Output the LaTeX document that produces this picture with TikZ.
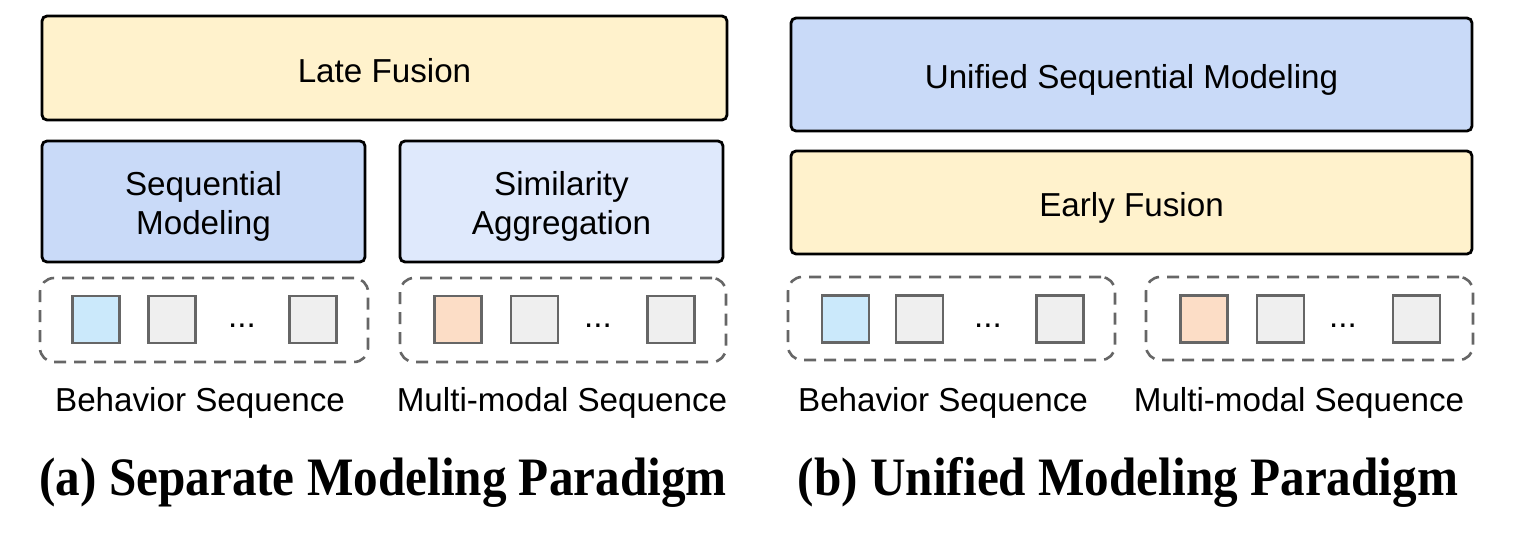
\documentclass[tikz,border=0pt]{standalone}
\usepackage{fontspec}
\setmainfont{Liberation Sans}
\newfontfamily\capfont{Liberation Serif}
\newcommand\myup[1]{\rule{0pt}{#1}}
\definecolor{fyellow}{HTML}{FFF2CC}
\definecolor{fblue}{HTML}{C9DAF8}
\definecolor{flblue}{HTML}{DFE9FC}
\definecolor{sqblue}{HTML}{CBE9FB}
\definecolor{sqorange}{HTML}{FCDDC6}
\definecolor{sqgray}{HTML}{EFEFEF}
\definecolor{edgegray}{HTML}{666666}
\begin{document}
\begin{tikzpicture}[x=0.5pt,y=-0.5pt,
  mainbox/.style={draw=black,line width=1.4pt,rounded corners=2.5pt,inner sep=0pt,align=center,
    font=\fontsize{16.6}{19.5}\selectfont},
  seqbox/.style={draw=edgegray,line width=1.3pt,dash pattern=on 6pt off 4pt,rounded corners=7pt,inner sep=0pt},
  sq/.style={draw=edgegray,line width=1.4pt,inner sep=0pt,minimum width=23.5pt,minimum height=23.5pt},
  lbl/.style={inner sep=0pt,font=\fontsize{16.6}{19.5}\selectfont,yshift=-1.5pt},
  dots/.style={inner sep=0pt,font=\fontsize{16.6}{19.5}\selectfont},
  capt/.style={inner sep=0pt,font=\capfont\bfseries\fontsize{24.6}{28}\selectfont,yshift=-2.2pt}]
\useasboundingbox (0,0) rectangle (1518,552);
\fill[white] (0,0) rectangle (1518,552);

% ---------- (a) ----------
\node[mainbox,fill=fyellow,minimum width=342.5pt,minimum height=52pt] (late) at (384.5,68) {\myup{14.6pt}Late Fusion};
\node[mainbox,fill=fblue,minimum width=161.5pt,minimum height=60.5pt] (seqm) at (203.5,201.5) {\myup{17.1pt}Sequential\\Modeling};
\node[mainbox,fill=flblue,minimum width=161.5pt,minimum height=60.5pt] (sima) at (561.5,201.5) {\myup{17.1pt}Similarity\\Aggregation};

\node[seqbox,minimum width=164pt,minimum height=42pt] (dl) at (204,320) {};
\node[sq,fill=sqblue] (a1) at (96,319.5) {};
\node[sq,fill=sqgray] (a2) at (172,319.5) {};
\node[dots] (ad) at (242,326) {...};
\node[sq,fill=sqgray] (a3) at (313,319.5) {};

\node[seqbox,minimum width=163pt,minimum height=42pt] (dr) at (563,320) {};
\node[sq,fill=sqorange] (b1) at (458,319.5) {};
\node[sq,fill=sqgray] (b2) at (534.5,319.5) {};
\node[dots] (bd) at (598,326) {...};
\node[sq,fill=sqgray] (b3) at (671,319.5) {};

\node[lbl] (lbA) at (200,400) {Behavior Sequence};
\node[lbl] (lmA) at (562,400) {Multi-modal Sequence};
\node[capt] (capA) at (383,478) {\scalebox{1}[1.1]{(a) Separate Modeling Paradigm}};

% ---------- (b) ----------
\node[mainbox,fill=fblue,minimum width=340.5pt,minimum height=56.5pt] (usm) at (1131.5,74.5) {\myup{17pt}Unified Sequential Modeling};
\node[mainbox,fill=fyellow,minimum width=340.5pt,minimum height=51.5pt] (early) at (1131.5,202.5) {\myup{17.4pt}Early Fusion};

\node[seqbox,minimum width=163.5pt,minimum height=41.5pt] (el) at (951.5,318.5) {};
\node[sq,fill=sqblue] (c1) at (845.5,319) {};
\node[sq,fill=sqgray] (c2) at (919.5,319) {};
\node[dots] (cd) at (988,326) {...};
\node[sq,fill=sqgray] (c3) at (1060,319) {};

\node[seqbox,minimum width=163.5pt,minimum height=41.5pt] (er) at (1309.5,318.5) {};
\node[sq,fill=sqorange] (d1) at (1204,319) {};
\node[sq,fill=sqgray] (d2) at (1280.5,319) {};
\node[dots] (dd) at (1343,326) {...};
\node[sq,fill=sqgray] (d3) at (1416.5,319) {};

\node[lbl] (lbB) at (943,400) {Behavior Sequence};
\node[lbl] (lmB) at (1299,400) {Multi-modal Sequence};
\node[capt] (capB) at (1128,478) {\scalebox{1}[1.1]{(b) Unified Modeling Paradigm}};
\end{tikzpicture}
\end{document}
